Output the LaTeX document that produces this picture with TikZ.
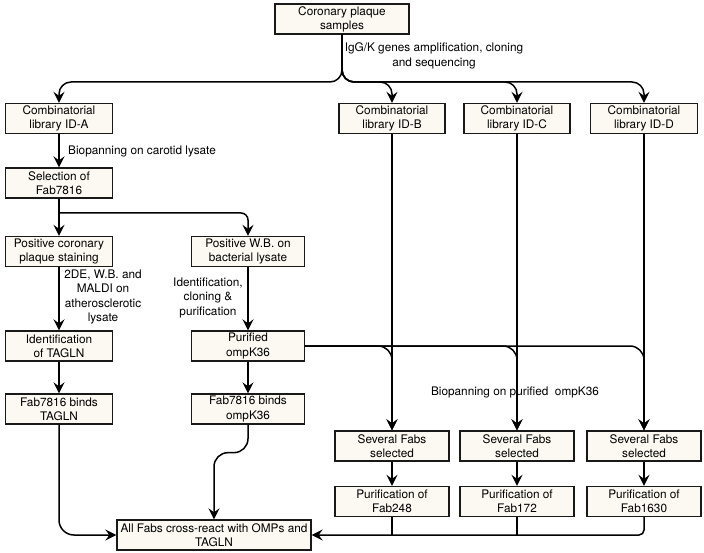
\documentclass[tikz,border=0pt]{standalone}
\usepackage{fontspec}
\setmainfont{TeX Gyre Heros}
\usetikzlibrary{arrows.meta}
\definecolor{boxfill}{RGB}{251,249,242}
\begin{document}
\begin{tikzpicture}[x=1pt,y=-1pt,
  box/.style={draw=black!90, line width=1.3pt, fill=boxfill, align=center, inner sep=0pt,
    minimum height=30pt, font=\fontsize{11.8}{14.2}\selectfont},
  lbl/.style={align=center, inner sep=0pt, font=\fontsize{11.8}{14.5}\selectfont},
  conn/.style={line width=1.5pt, -{Stealth[length=11pt,width=11pt,inset=4pt]}},
  plainline/.style={line width=1.5pt}]
\useasboundingbox (0,0) rectangle (704,553);

% boxes
\node[box, minimum width=134pt] (top) at (342,19) {Coronary plaque\\samples};
\node[box, minimum width=107pt] (libA) at (59,118.5) {Combinatorial\\library ID-A};
\node[box, minimum width=106pt] (libB) at (392,118.5) {Combinatorial\\library ID-B};
\node[box, minimum width=106pt] (libC) at (517,118.5) {Combinatorial\\library ID-C};
\node[box, minimum width=107pt] (libD) at (644,118.5) {Combinatorial\\library ID-D};
\node[box, minimum width=107pt] (sel) at (59,183) {Selection of\\Fab7816};
\node[box, minimum width=107pt] (poscor) at (59,251.5) {Positive coronary\\plaque staining};
\node[box, minimum width=113pt] (poswb) at (248,251.5) {Positive W.B. on\\bacterial lysate};
\node[box, minimum width=107pt] (identT) at (59,346) {Identification\\of TAGLN};
\node[box, minimum width=113pt] (pur) at (248,346) {Purified\\ompK36};
\node[box, minimum width=107pt] (fabT) at (59,409) {Fab7816 binds\\TAGLN};
\node[box, minimum width=113pt] (fabO) at (248,409) {Fab7816 binds\\ompK36};
\node[box, minimum width=114pt] (sev1) at (392,446) {Several Fabs\\selected};
\node[box, minimum width=114pt] (sev2) at (517,446) {Several Fabs\\selected};
\node[box, minimum width=114pt] (sev3) at (644,446) {Several Fabs\\selected};
\node[box, minimum width=114pt] (pf1) at (392,501.5) {Purification of\\Fab248};
\node[box, minimum width=114pt] (pf2) at (517,501.5) {Purification of\\Fab172};
\node[box, minimum width=114pt] (pf3) at (644,501.5) {Purification of\\Fab1630};
\node[box, minimum width=194pt] (all) at (214,535) {All Fabs cross-react with OMPs and\\TAGLN};

% labels
\node[lbl] (l1) at (434,56) {IgG/K genes amplification, cloning\\and sequencing};
\node[lbl, anchor=west] (l2) at (68,151) {Biopanning on carotid lysate};
\node[lbl] (l3) at (103,297) {2DE, W.B. and\\MALDI on\\atherosclerotic\\lysate};
\node[lbl] (l4) at (208,297.5) {Identification,\\cloning \&\\purification};
\node[lbl] (l5) at (515,392) {Biopanning on purified~~ompK36};

% coordinates
\coordinate (split) at (342,82);
\coordinate (selsplit) at (59,213);

% connectors
\draw[conn, rounded corners=12pt] (top.south) -- (split) -| (libA.north);
\draw[conn, rounded corners=12pt] (top.south) -- (split) -| (libB.north);
\draw[conn, rounded corners=12pt] (top.south) -- (split) -| (libC.north);
\draw[conn, rounded corners=12pt] (top.south) -- (split) -| (libD.north);

\draw[conn] (libA.south) -- (sel.north);
\draw[conn] (sel.south) -- (poscor.north);
\draw[conn, rounded corners=7pt] (selsplit) -| (poswb.north);

\draw[conn] (poscor.south) -- (identT.north);
\draw[conn] (poswb.south) -- (pur.north);
\draw[conn] (identT.south) -- (fabT.north);
\draw[conn] (pur.south) -- (fabO.north);

\draw[conn] (libB.south) -- (sev1.north);
\draw[conn] (libC.south) -- (sev2.north);
\draw[conn] (libD.south) -- (sev3.north);
\draw[conn, rounded corners=14pt] (pur.east) -| (sev1.north);
\draw[conn, rounded corners=14pt] (pur.east) -| (sev2.north);
\draw[conn, rounded corners=14pt] (pur.east) -| (sev3.north);

\draw[conn] (sev1.south) -- (pf1.north);
\draw[conn] (sev2.south) -- (pf2.north);
\draw[conn] (sev3.south) -- (pf3.north);

\draw[plainline] (pf1.south) -- (pf1.south |- all.east);
\draw[plainline] (pf2.south) -- (pf2.south |- all.east);
\draw[conn, rounded corners=5pt] (pf3.south) |- (all.east);

\draw[conn, rounded corners=15pt] (fabT.south) |- (all.west);
\draw[conn, rounded corners=14pt] (fabO.south) -- ++(0,28) -| (all.north);
\end{tikzpicture}
\end{document}
